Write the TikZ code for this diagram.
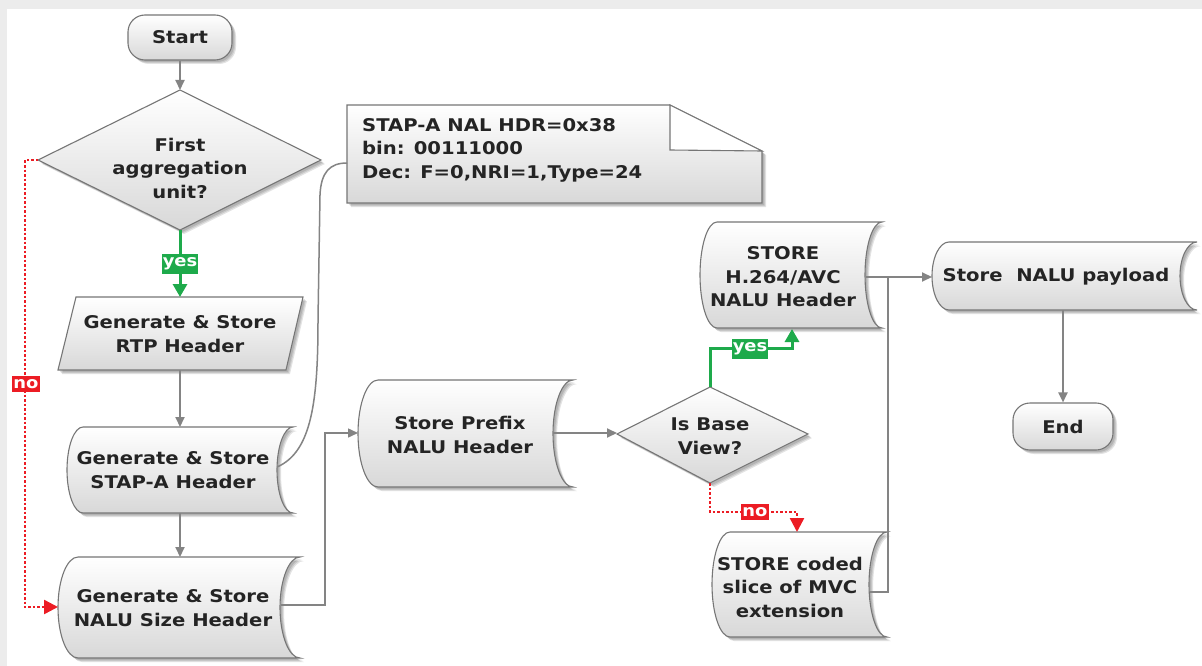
\documentclass[tikz,border=0pt]{standalone}
\usepackage{fontspec}
\setmainfont{DejaVu Sans}[FakeStretch=1.12]
\usetikzlibrary{arrows.meta}
\definecolor{edge}{HTML}{767676}
\definecolor{wire}{HTML}{848484}
\definecolor{okgreen}{HTML}{1EAA4B}
\definecolor{nored}{HTML}{EC1C24}
\definecolor{ink}{HTML}{242424}
\definecolor{shadefill}{HTML}{D8D8D8}
\definecolor{frame}{HTML}{ECECEC}

\tikzset{
  box/.style={draw=edge, line width=1.1pt, top color=white, bottom color=shadefill},
  shd/.style={fill=black, opacity=0.11},
  txt/.style={text=ink, font=\bfseries\fontsize{17.5}{23.5}\selectfont, align=center, inner sep=0pt},
  term/.style={box, txt, rounded corners=17pt},
  wire/.style={draw=wire, line width=2pt},
  thinwire/.style={draw=wire, line width=1.5pt},
  arr/.style={wire, -{Triangle[length=10pt,width=9pt]}},
  yesline/.style={draw=okgreen, line width=3pt, -{Triangle[length=13pt,width=14pt]}},
  noline/.style={draw=nored, line width=2.5pt, dash pattern=on 2.5pt off 2pt, -{Triangle[length=14pt,width=14pt]}},
  yeslab/.style={fill=okgreen, text=white, font=\bfseries\fontsize{16}{16}\selectfont, inner xsep=1pt, inner ysep=3.5pt},
  nolab/.style={fill=nored, text=white, font=\bfseries\fontsize{16}{16}\selectfont, inner xsep=1pt, inner ysep=3.5pt},
}

% stored-data outline: x0, y0, x1, y1, bulge
\newcommand\storedbox[5]{%
  \def\sbpath{(#1+#5,#2) -- (#3,#2)
    .. controls ({#3-0.55*#5},#2) and ({#3-#5},{(#2+#4)/2-0.276*(#4-#2)}) .. ({#3-#5},{(#2+#4)/2})
    .. controls ({#3-#5},{(#2+#4)/2+0.276*(#4-#2)}) and ({#3-0.55*#5},#4) .. (#3,#4)
    -- (#1+#5,#4)
    .. controls ({#1+0.45*#5},#4) and (#1,{(#2+#4)/2+0.276*(#4-#2)}) .. (#1,{(#2+#4)/2})
    .. controls (#1,{(#2+#4)/2-0.276*(#4-#2)}) and ({#1+0.45*#5},#2) .. (#1+#5,#2) -- cycle}%
  \foreach \d in {2,3,4}{\fill[shd, shift={(\d,\d)}] \sbpath;}
  \draw[box] \sbpath;
}
% plain polygon with a soft shadow
\newcommand\shadowpoly[1]{%
  \foreach \d in {2,3,4}{\fill[shd, shift={(\d,\d)}] #1 -- cycle;}
  \draw[box] #1 -- cycle;
}

\begin{document}
\begin{tikzpicture}[x=1pt, y=-1pt]
\useasboundingbox (0,0) rectangle (1202,666);
% page frame
\fill[frame] (0,0) rectangle (1202,666);
\fill[white] (7,9) rectangle (1202,666);

% ---------- left column ----------
\foreach \d in {2,3,4}{\fill[shd, shift={(\d,\d)}, rounded corners=17pt] (128,15) rectangle (232,60);}
\node[term, minimum width=104pt, minimum height=45pt] (start) at (180,37.5) {Start};

\shadowpoly{(180,90) -- (321,160) -- (180,230) -- (38,160)}
\node[txt] (first) at (180,168) {First\\aggregation\\unit?};
\coordinate (first-n) at (180,90);
\coordinate (first-s) at (180,230);
\coordinate (first-w) at (38,160);

\shadowpoly{(76,297) -- (303,297) -- (286,370) -- (58,370)}
\node[txt] (rtp) at (180,334) {Generate \& Store\\RTP Header};
\coordinate (rtp-n) at (180,297);
\coordinate (rtp-s) at (180,370);

\storedbox{67}{427}{293}{513}{16}
\node[txt] (stap) at (173,470) {Generate \& Store\\STAP-A Header};
\coordinate (stap-n) at (180,427);
\coordinate (stap-s) at (180,513);
\coordinate (stap-e) at (277,467);

\storedbox{58}{557}{300}{658}{20}
\node[txt] (size) at (173,608) {Generate \& Store\\NALU Size Header};
\coordinate (size-n) at (180,557);
\coordinate (size-w) at (58,607);
\coordinate (size-e) at (281,605);

% ---------- annotation ----------
\shadowpoly{(347,105) -- (670,105) -- (762,151) -- (762,203) -- (347,203)}
\draw[edge, line width=1.1pt, fill=white] (670,105) -- (670,150) -- (762,151) -- cycle;
\node[txt, align=left, anchor=north west] (note) at (362,118)
  {STAP-A NAL HDR=0x38\\bin: 00111000\\Dec: F=0,NRI=1,Type=24};
\coordinate (note-w) at (347,163);

% ---------- middle ----------
\storedbox{358}{380}{573}{487}{20}
\node[txt] (prefix) at (460,435) {Store Prefix\\NALU Header};
\coordinate (prefix-w) at (358,433);
\coordinate (prefix-e) at (553,433);

\shadowpoly{(710,387) -- (808,434) -- (710,483) -- (617,434)}
\node[txt] (base) at (710,436) {Is Base\\View?};
\coordinate (base-n) at (710,387);
\coordinate (base-s) at (710,483);
\coordinate (base-w) at (617,433);

\storedbox{700}{222}{882}{328}{17}
\node[txt] (avc) at (783,277) {STORE\\H.264/AVC\\NALU Header};
\coordinate (avc-in) at (792,329);
\coordinate (avc-e) at (866,277);

\storedbox{712}{532}{887}{637}{18}
\node[txt] (mvc) at (790,587) {STORE coded\\slice of MVC\\extension};
\coordinate (mvc-in) at (797,532);
\coordinate (mvc-e) at (870,592);

\coordinate (join) at (888,277);

% ---------- right column ----------
\storedbox{932}{242}{1197}{310}{17}
\node[txt] (payload) at (1056,277) {Store\ \ NALU payload};
\coordinate (payload-w) at (932,277);
\coordinate (payload-s) at (1063,310);

\foreach \d in {2,3,4}{\fill[shd, shift={(\d,\d)}, rounded corners=17pt] (1013,403) rectangle (1113,450);}
\node[term, minimum width=100pt, minimum height=47pt] (end) at (1063,426.5) {End};

% ---------- connectors ----------
\draw[arr] (start) -- (first-n);
\draw[yesline] (first-s) -- (rtp-n);
\node[yeslab] (yes1) at (180,264) {yes};
\draw[noline] (first-w) -- ++(-13,0) |- (size-w);
\node[nolab] (no1) at (26,384) {no};
\draw[arr] (rtp-s) -- (stap-n);
\draw[arr] (stap-s) -- (size-n);
\draw[thinwire] (stap-e) .. controls (312,452) and (318,400) .. (318,320)
  -- (320,195) .. controls (321,172) and (330,163) .. (note-w);
\draw[thinwire, -{Triangle[length=10pt,width=9pt]}] (size-e) -- ++(44,0) |- (prefix-w);
\draw[arr] (prefix-e) -- (base-w);
\draw[yesline] (base-n) -- ++(0,-39) -| (avc-in);
\node[yeslab] (yes2) at (750,349) {yes};
\draw[noline] (base-s) -- ++(0,29) -| (mvc-in);
\node[nolab] (no2) at (755,512) {no};
\draw[arr] (avc-e) -- (payload-w);
\draw[thinwire] (mvc-e) -| (join);
\draw[arr] (payload-s) -- (end);
\end{tikzpicture}
\end{document}
